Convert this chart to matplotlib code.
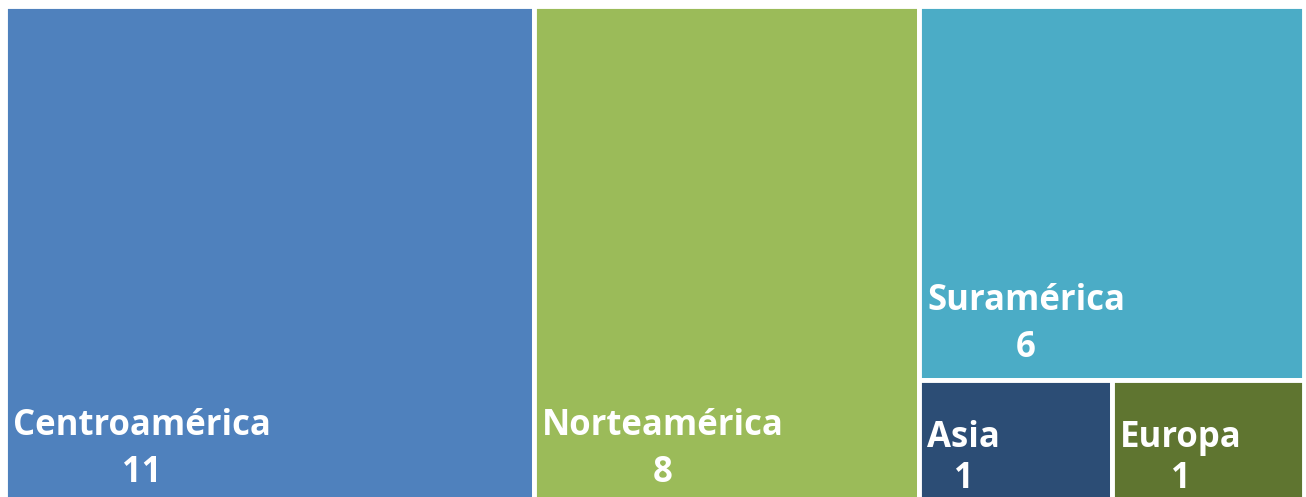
import matplotlib.pyplot as plt
from matplotlib.patches import Rectangle

regiones = ["Centroamérica", "Norteamérica", "Suramérica", "Asia", "Europa"]
valores = [11, 8, 6, 1, 1]
colores = ["#4F81BD", "#9BBB59", "#4BACC6", "#2C4D75", "#5F7530"]


def layout(vals):
    # two full-height columns, then the rest stacked in the last column
    total = sum(vals)
    rects = []
    x = 0.0
    for v in vals[:2]:
        w = v / total
        rects.append((x, 0.0, w, 1.0))
        x += w
    col_w = 1.0 - x
    resto = vals[2:]
    col_total = sum(resto)
    h_top = resto[0] / col_total
    rects.append((x, 1.0 - h_top, col_w, h_top))
    bottom = resto[1:]
    bx = x
    for v in bottom:
        w = col_w * v / sum(bottom)
        rects.append((bx, 0.0, w, 1.0 - h_top))
        bx += w
    return rects


fig = plt.figure(figsize=(13.06, 4.97), dpi=100)
ax = fig.add_axes([5 / 1306, 1 - 505 / 497, 1299 / 1306, 499 / 497])
ax.set_xlim(0, 1)
ax.set_ylim(0, 1)
ax.axis("off")

font = ["Open Sans", "DejaVu Sans"]

for (x, y, w, h), nombre, val, c in zip(layout(valores), regiones, valores, colores):
    ax.add_patch(Rectangle((x, y), w, h, facecolor=c, edgecolor="white", linewidth=3.5))
    small = h < 0.3
    lab_off = 67 if small else 79
    num_off = 26 if small else 32
    t = ax.annotate(nombre, (x, y), xytext=(8, lab_off), textcoords="offset pixels",
                    ha="left", va="center", color="white", fontsize=25,
                    fontweight="bold", family=font)
    fig.canvas.draw()
    bb = t.get_window_extent()
    cx = (bb.x0 + bb.x1) / 2
    x0 = ax.transData.transform((x, y))
    ax.annotate(str(val), (x, y), xytext=(cx - x0[0], num_off), textcoords="offset pixels",
                ha="center", va="center", color="white", fontsize=25,
                fontweight="bold", family=font)

fig.savefig("out.png", dpi=100)
